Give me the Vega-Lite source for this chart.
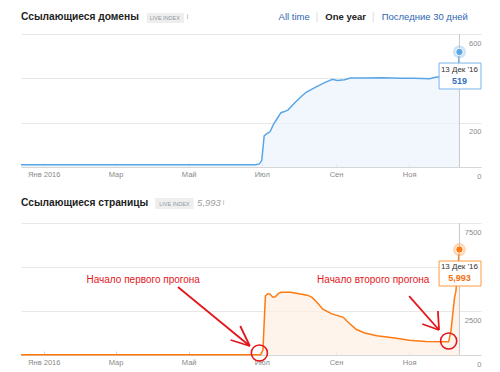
{
  "$schema": "https://vega.github.io/schema/vega-lite/v6.json",
  "background": "#ffffff",
  "padding": {"left": 18, "top": 10, "right": 0, "bottom": 0},
  "spacing": 18,
  "config": {
    "view": {"stroke": null},
    "font": "Liberation Sans",
    "axisX": {"domain": true, "domainColor": "#d6d6d6", "grid": false, "tickColor": "#d6d6d6", "tickSize": -4, "labelPadding": 7, "labelColor": "#8a8a8a", "labelFontSize": 7.5, "title": null, "labelFlush": false, "labelOverlap": false},
    "axisY": {"domain": false, "ticks": false, "tickSize": 0, "grid": true, "gridColor": "#e8e8e8", "labelAlign": "right", "labelPadding": 0, "labelBaseline": "top", "labelOffset": 5, "labelColor": "#8a8a8a", "labelFontSize": 7.5, "title": null, "labelOverlap": false, "labelFlush": false, "format": "d"}
  },
  "vconcat": [
    {
      "width": 460,
      "height": 133,
      "encoding": {
        "x": {"field": "date", "type": "temporal", "scale": {"type": "utc", "domain": [{"year": 2015, "month": 12, "date": 13, "utc": true}, {"year": 2016, "month": 12, "date": 31, "utc": true}]},
          "axis": {"orient": "bottom", "values": [{"year": 2016, "month": 1, "date": 1, "utc": true}, {"year": 2016, "month": 3, "date": 1, "utc": true}, {"year": 2016, "month": 5, "date": 1, "utc": true}, {"year": 2016, "month": 7, "date": 1, "utc": true}, {"year": 2016, "month": 9, "date": 1, "utc": true}, {"year": 2016, "month": 11, "date": 1, "utc": true}],
            "labelExpr": "['Янв','Фев','Мар','Апр','Май','Июн','Июл','Авг','Сен','Окт','Ноя','Дек'][utcmonth(datum.value)] + (utcmonth(datum.value) == 0 ? ' ' + utcyear(datum.value) : '')"}}
      },
      "layer": [
        {
          "data": {"values": [
            {"date": "2015-12-13", "value": 10}, {"date": "2016-06-26", "value": 10}, {"date": "2016-06-29", "value": 14},
            {"date": "2016-07-01", "value": 30}, {"date": "2016-07-03", "value": 140}, {"date": "2016-07-05", "value": 150},
            {"date": "2016-07-08", "value": 160}, {"date": "2016-07-11", "value": 195}, {"date": "2016-07-14", "value": 220},
            {"date": "2016-07-17", "value": 245}, {"date": "2016-07-20", "value": 250}, {"date": "2016-07-23", "value": 258},
            {"date": "2016-07-29", "value": 292}, {"date": "2016-08-03", "value": 318}, {"date": "2016-08-07", "value": 337},
            {"date": "2016-08-15", "value": 360}, {"date": "2016-08-23", "value": 382}, {"date": "2016-08-29", "value": 396},
            {"date": "2016-09-02", "value": 390}, {"date": "2016-09-08", "value": 394}, {"date": "2016-09-13", "value": 401},
            {"date": "2016-09-25", "value": 402}, {"date": "2016-10-10", "value": 403}, {"date": "2016-10-25", "value": 400},
            {"date": "2016-11-05", "value": 400}, {"date": "2016-11-18", "value": 398}, {"date": "2016-11-23", "value": 405},
            {"date": "2016-11-29", "value": 408}, {"date": "2016-12-06", "value": 411}, {"date": "2016-12-10", "value": 413},
            {"date": "2016-12-12", "value": 440}, {"date": "2016-12-13", "value": 519}
          ]},
          "mark": {"type": "area", "fill": "#edf4fc", "line": {"stroke": "#5aa5e6", "strokeWidth": 1.5}},
          "encoding": {"y": {"field": "value", "type": "quantitative", "scale": {"domain": [0, 600], "nice": false}, "axis": {"orient": "right", "values": [0, 200, 400, 600], "labelExpr": "datum.value == 400 ? '' : datum.label"}}}
        },
        {
          "data": {"values": [{"date": "2016-12-13", "value": 519}]},
          "mark": {"type": "rule", "color": "#c8c8c8", "strokeWidth": 1},
          "encoding": {}
        },
        {
          "data": {"values": [{"date": "2016-12-13", "value": 519}]},
          "mark": {"type": "circle", "color": "#5aa5e6", "opacity": 0.3, "size": 170},
          "encoding": {"y": {"field": "value", "type": "quantitative"}}
        },
        {
          "data": {"values": [{"date": "2016-12-13", "value": 519}]},
          "mark": {"type": "circle", "color": "#5aa5e6", "opacity": 1, "size": 55, "stroke": "#ffffff", "strokeWidth": 1},
          "encoding": {"y": {"field": "value", "type": "quantitative"}}
        },
        {
          "data": {"values": [{"date": "2016-11-26", "date2": "2016-12-31", "value": 469, "value2": 352}]},
          "mark": {"type": "rect", "fill": "#ffffff", "fillOpacity": 0.95, "stroke": "#7cb5ec", "strokeWidth": 1},
          "encoding": {"x2": {"field": "date2"}, "y": {"field": "value", "type": "quantitative"}, "y2": {"field": "value2"}}
        },
        {
          "data": {"values": [{"date": "2016-12-13", "value": 438, "text": "13 Дек '16"}]},
          "mark": {"type": "text", "fontSize": 8, "color": "#333333", "align": "center", "baseline": "middle"},
          "encoding": {"y": {"field": "value", "type": "quantitative"}, "text": {"field": "text"}}
        },
        {
          "data": {"values": [{"date": "2016-12-13", "value": 388, "text": "519"}]},
          "mark": {"type": "text", "fontSize": 9, "fontWeight": "bold", "color": "#2f6fc0", "align": "center", "baseline": "middle"},
          "encoding": {"y": {"field": "value", "type": "quantitative"}, "text": {"field": "text"}}
        },
        {
          "data": {"values": [{"date": "2015-12-13", "value": 678, "text": "Ссылающиеся домены"}]},
          "mark": {"type": "text", "fontSize": 10.2, "fontWeight": "bold", "color": "#222222", "align": "left", "baseline": "middle"},
          "encoding": {"y": {"field": "value", "type": "quantitative"}, "text": {"field": "text"}}
        },
        {
          "data": {"values": [{"date": "2016-03-27", "date2": "2016-04-27", "value": 695, "value2": 650}]},
          "mark": {"type": "rect", "fill": "#eeeeee"},
          "encoding": {"x2": {"field": "date2"}, "y": {"field": "value", "type": "quantitative"}, "y2": {"field": "value2"}}
        },
        {
          "data": {"values": [{"date": "2016-04-11", "value": 672, "text": "LIVE INDEX"}]},
          "mark": {"type": "text", "fontSize": 5.5, "color": "#8f9aa5", "align": "center", "baseline": "middle"},
          "encoding": {"y": {"field": "value", "type": "quantitative"}, "text": {"field": "text"}}
        },
        {
          "data": {"values": [{"date": "2016-04-30", "value": 678, "text": "i"}]},
          "mark": {"type": "text", "fontSize": 7, "color": "#aaaaaa", "align": "center", "baseline": "middle"},
          "encoding": {"y": {"field": "value", "type": "quantitative"}, "text": {"field": "text"}}
        },
        {
          "data": {"values": [{"date": "2016-07-28", "value": 678, "text": "All time"}, {"date": "2016-11-14", "value": 678, "text": "Последние 30 дней"}]},
          "mark": {"type": "text", "fontSize": 9.5, "color": "#2f66b3", "align": "center", "baseline": "middle"},
          "encoding": {"y": {"field": "value", "type": "quantitative"}, "text": {"field": "text"}}
        },
        {
          "data": {"values": [{"date": "2016-09-09", "value": 678, "text": "One year"}]},
          "mark": {"type": "text", "fontSize": 9.5, "fontWeight": "bold", "color": "#222222", "align": "center", "baseline": "middle"},
          "encoding": {"y": {"field": "value", "type": "quantitative"}, "text": {"field": "text"}}
        },
        {
          "data": {"values": [{"date": "2016-08-16", "value": 678, "text": "|"}, {"date": "2016-10-02", "value": 678, "text": "|"}]},
          "mark": {"type": "text", "fontSize": 11, "color": "#dddddd", "align": "center", "baseline": "middle"},
          "encoding": {"y": {"field": "value", "type": "quantitative"}, "text": {"field": "text"}}
        }
      ]
    },
    {
      "width": 460,
      "height": 132,
      "encoding": {
        "x": {"field": "date", "type": "temporal", "scale": {"type": "utc", "domain": [{"year": 2015, "month": 12, "date": 13, "utc": true}, {"year": 2016, "month": 12, "date": 31, "utc": true}]},
          "axis": {"orient": "bottom", "values": [{"year": 2016, "month": 1, "date": 1, "utc": true}, {"year": 2016, "month": 3, "date": 1, "utc": true}, {"year": 2016, "month": 5, "date": 1, "utc": true}, {"year": 2016, "month": 7, "date": 1, "utc": true}, {"year": 2016, "month": 9, "date": 1, "utc": true}, {"year": 2016, "month": 11, "date": 1, "utc": true}],
            "labelExpr": "['Янв','Фев','Мар','Апр','Май','Июн','Июл','Авг','Сен','Окт','Ноя','Дек'][utcmonth(datum.value)] + (utcmonth(datum.value) == 0 ? ' ' + utcyear(datum.value) : '')"}}
      },
      "layer": [
        {
          "data": {"values": [
            {"date": "2015-12-13", "value": 20}, {"date": "2016-06-30", "value": 20}, {"date": "2016-07-02", "value": 300},
            {"date": "2016-07-04", "value": 3350}, {"date": "2016-07-06", "value": 3480}, {"date": "2016-07-08", "value": 3460},
            {"date": "2016-07-10", "value": 3290}, {"date": "2016-07-12", "value": 3300}, {"date": "2016-07-15", "value": 3500},
            {"date": "2016-07-17", "value": 3560}, {"date": "2016-07-25", "value": 3560}, {"date": "2016-08-01", "value": 3480},
            {"date": "2016-08-08", "value": 3400}, {"date": "2016-08-12", "value": 3270}, {"date": "2016-08-16", "value": 3000},
            {"date": "2016-08-21", "value": 2600}, {"date": "2016-08-28", "value": 2350}, {"date": "2016-09-07", "value": 2140},
            {"date": "2016-09-12", "value": 1800}, {"date": "2016-09-18", "value": 1450}, {"date": "2016-09-25", "value": 1250},
            {"date": "2016-10-05", "value": 1100}, {"date": "2016-10-20", "value": 960}, {"date": "2016-11-01", "value": 840},
            {"date": "2016-11-15", "value": 770}, {"date": "2016-12-04", "value": 750}, {"date": "2016-12-06", "value": 1400},
            {"date": "2016-12-08", "value": 2700}, {"date": "2016-12-09", "value": 3300}, {"date": "2016-12-10", "value": 3600},
            {"date": "2016-12-13", "value": 5993}
          ]},
          "mark": {"type": "area", "fill": "#fdefe3", "line": {"stroke": "#ff7a10", "strokeWidth": 1.5}},
          "encoding": {"y": {"field": "value", "type": "quantitative", "scale": {"domain": [0, 7500], "nice": false}, "axis": {"orient": "right", "values": [0, 2500, 5000, 7500], "labelExpr": "datum.value == 5000 ? '' : datum.label"}}}
        },
        {
          "data": {"values": [{"date": "2016-12-13", "value": 5993}]},
          "mark": {"type": "rule", "color": "#c8c8c8", "strokeWidth": 1},
          "encoding": {}
        },
        {
          "data": {"values": [{"date": "2016-12-13", "value": 5993}]},
          "mark": {"type": "circle", "color": "#ff7a10", "opacity": 0.3, "size": 170},
          "encoding": {"y": {"field": "value", "type": "quantitative"}}
        },
        {
          "data": {"values": [{"date": "2016-12-13", "value": 5993}]},
          "mark": {"type": "circle", "color": "#ff7a10", "opacity": 1, "size": 55, "stroke": "#ffffff", "strokeWidth": 1},
          "encoding": {"y": {"field": "value", "type": "quantitative"}}
        },
        {
          "data": {"values": [{"date": "2016-11-26", "date2": "2016-12-31", "value": 5340, "value2": 3920}]},
          "mark": {"type": "rect", "fill": "#ffffff", "fillOpacity": 0.95, "stroke": "#ff9a40", "strokeWidth": 1},
          "encoding": {"x2": {"field": "date2"}, "y": {"field": "value", "type": "quantitative"}, "y2": {"field": "value2"}}
        },
        {
          "data": {"values": [{"date": "2016-12-13", "value": 5000, "text": "13 Дек '16"}]},
          "mark": {"type": "text", "fontSize": 8, "color": "#333333", "align": "center", "baseline": "middle"},
          "encoding": {"y": {"field": "value", "type": "quantitative"}, "text": {"field": "text"}}
        },
        {
          "data": {"values": [{"date": "2016-12-13", "value": 4370, "text": "5,993"}]},
          "mark": {"type": "text", "fontSize": 9, "fontWeight": "bold", "color": "#f07010", "align": "center", "baseline": "middle"},
          "encoding": {"y": {"field": "value", "type": "quantitative"}, "text": {"field": "text"}}
        },
        {
          "data": {"values": [{"date": "2015-12-13", "value": 8636, "text": "Ссылающиеся страницы"}]},
          "mark": {"type": "text", "fontSize": 10.2, "fontWeight": "bold", "color": "#222222", "align": "left", "baseline": "middle"},
          "encoding": {"y": {"field": "value", "type": "quantitative"}, "text": {"field": "text"}}
        },
        {
          "data": {"values": [{"date": "2016-04-03", "date2": "2016-05-05", "value": 8920, "value2": 8290}]},
          "mark": {"type": "rect", "fill": "#eeeeee"},
          "encoding": {"x2": {"field": "date2"}, "y": {"field": "value", "type": "quantitative"}, "y2": {"field": "value2"}}
        },
        {
          "data": {"values": [{"date": "2016-04-19", "value": 8600, "text": "LIVE INDEX"}]},
          "mark": {"type": "text", "fontSize": 5.5, "color": "#8f9aa5", "align": "center", "baseline": "middle"},
          "encoding": {"y": {"field": "value", "type": "quantitative"}, "text": {"field": "text"}}
        },
        {
          "data": {"values": [{"date": "2016-05-08", "value": 8636, "text": "5,993"}]},
          "mark": {"type": "text", "fontSize": 9.5, "fontStyle": "italic", "color": "#a0a0a0", "align": "left", "baseline": "middle"},
          "encoding": {"y": {"field": "value", "type": "quantitative"}, "text": {"field": "text"}}
        },
        {
          "data": {"values": [{"date": "2016-05-30", "value": 8636, "text": "i"}]},
          "mark": {"type": "text", "fontSize": 7, "color": "#aaaaaa", "align": "center", "baseline": "middle"},
          "encoding": {"y": {"field": "value", "type": "quantitative"}, "text": {"field": "text"}}
        },
        {
          "data": {"values": [{"date": "2016-03-24", "value": 4260, "text": "Начало первого прогона"}, {"date": "2016-10-02", "value": 4260, "text": "Начало второго прогона"}]},
          "mark": {"type": "text", "fontSize": 10, "color": "#e3161b", "align": "center", "baseline": "middle"},
          "encoding": {"y": {"field": "value", "type": "quantitative"}, "text": {"field": "text"}}
        },
        {
          "data": {"values": [
            {"date": "2016-04-22", "value": 3860, "date2": "2016-06-21", "value2": 511},
            {"date": "2016-06-13", "value": 1647, "date2": "2016-06-21", "value2": 511},
            {"date": "2016-06-05", "value": 852, "date2": "2016-06-21", "value2": 511},
            {"date": "2016-11-01", "value": 3350, "date2": "2016-11-26", "value2": 1420},
            {"date": "2016-11-25", "value": 2500, "date2": "2016-11-26", "value2": 1420},
            {"date": "2016-11-12", "value": 1760, "date2": "2016-11-26", "value2": 1420}
          ]},
          "mark": {"type": "rule", "color": "#e3161b", "strokeWidth": 1.8},
          "encoding": {"x2": {"field": "date2"}, "y": {"field": "value", "type": "quantitative"}, "y2": {"field": "value2"}}
        },
        {
          "data": {"values": [{"date": "2016-06-29", "value": 114}, {"date": "2016-12-04", "value": 795}]},
          "mark": {"type": "point", "shape": "circle", "filled": false, "color": "#e3161b", "strokeWidth": 1.6, "size": 260, "opacity": 1},
          "encoding": {"y": {"field": "value", "type": "quantitative"}}
        }
      ]
    }
  ]
}
